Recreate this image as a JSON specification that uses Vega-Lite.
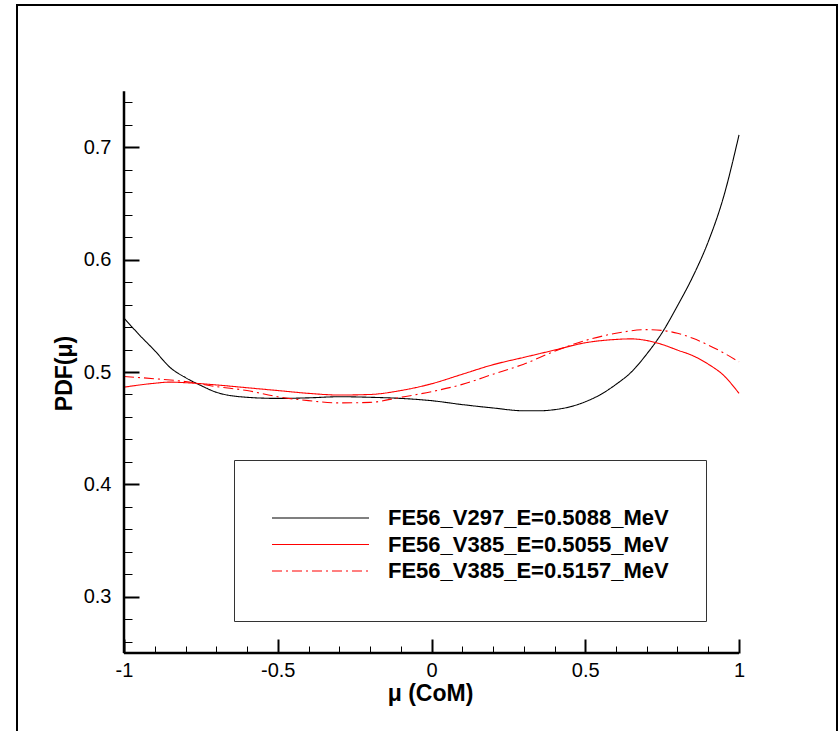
{
  "$schema": "https://vega.github.io/schema/vega-lite/v6.json",
  "width": 820,
  "height": 730,
  "autosize": {"type": "none"},
  "padding": {"left": 17, "top": 5, "right": 1, "bottom": 0},
  "background": "#ffffff",
  "config": {
    "view": {"stroke": "#000000", "strokeWidth": 2},
    "font": "Liberation Sans"
  },
  "datasets": {
    "curves": [
      {"s": "FE56_V297_E=0.5088_MeV", "mu": -1.0, "pdf": 0.548},
      {"s": "FE56_V297_E=0.5088_MeV", "mu": -0.95, "pdf": 0.533},
      {"s": "FE56_V297_E=0.5088_MeV", "mu": -0.9, "pdf": 0.519},
      {"s": "FE56_V297_E=0.5088_MeV", "mu": -0.85, "pdf": 0.504},
      {"s": "FE56_V297_E=0.5088_MeV", "mu": -0.8, "pdf": 0.495},
      {"s": "FE56_V297_E=0.5088_MeV", "mu": -0.75, "pdf": 0.488},
      {"s": "FE56_V297_E=0.5088_MeV", "mu": -0.7, "pdf": 0.482},
      {"s": "FE56_V297_E=0.5088_MeV", "mu": -0.6, "pdf": 0.4775},
      {"s": "FE56_V297_E=0.5088_MeV", "mu": -0.5, "pdf": 0.4765},
      {"s": "FE56_V297_E=0.5088_MeV", "mu": -0.4, "pdf": 0.477},
      {"s": "FE56_V297_E=0.5088_MeV", "mu": -0.3, "pdf": 0.478},
      {"s": "FE56_V297_E=0.5088_MeV", "mu": -0.2, "pdf": 0.4775},
      {"s": "FE56_V297_E=0.5088_MeV", "mu": -0.1, "pdf": 0.4765},
      {"s": "FE56_V297_E=0.5088_MeV", "mu": 0.0, "pdf": 0.4745},
      {"s": "FE56_V297_E=0.5088_MeV", "mu": 0.1, "pdf": 0.471},
      {"s": "FE56_V297_E=0.5088_MeV", "mu": 0.2, "pdf": 0.468},
      {"s": "FE56_V297_E=0.5088_MeV", "mu": 0.3, "pdf": 0.4655},
      {"s": "FE56_V297_E=0.5088_MeV", "mu": 0.35, "pdf": 0.4655},
      {"s": "FE56_V297_E=0.5088_MeV", "mu": 0.4, "pdf": 0.4665},
      {"s": "FE56_V297_E=0.5088_MeV", "mu": 0.45, "pdf": 0.469},
      {"s": "FE56_V297_E=0.5088_MeV", "mu": 0.5, "pdf": 0.4735},
      {"s": "FE56_V297_E=0.5088_MeV", "mu": 0.55, "pdf": 0.48},
      {"s": "FE56_V297_E=0.5088_MeV", "mu": 0.6, "pdf": 0.489},
      {"s": "FE56_V297_E=0.5088_MeV", "mu": 0.65, "pdf": 0.5},
      {"s": "FE56_V297_E=0.5088_MeV", "mu": 0.7, "pdf": 0.516},
      {"s": "FE56_V297_E=0.5088_MeV", "mu": 0.75, "pdf": 0.535},
      {"s": "FE56_V297_E=0.5088_MeV", "mu": 0.8, "pdf": 0.559},
      {"s": "FE56_V297_E=0.5088_MeV", "mu": 0.85, "pdf": 0.585},
      {"s": "FE56_V297_E=0.5088_MeV", "mu": 0.9, "pdf": 0.616},
      {"s": "FE56_V297_E=0.5088_MeV", "mu": 0.95, "pdf": 0.656},
      {"s": "FE56_V297_E=0.5088_MeV", "mu": 1.0, "pdf": 0.711},
      {"s": "FE56_V385_E=0.5055_MeV", "mu": -1.0, "pdf": 0.4865},
      {"s": "FE56_V385_E=0.5055_MeV", "mu": -0.9, "pdf": 0.49},
      {"s": "FE56_V385_E=0.5055_MeV", "mu": -0.85, "pdf": 0.491},
      {"s": "FE56_V385_E=0.5055_MeV", "mu": -0.8, "pdf": 0.4905},
      {"s": "FE56_V385_E=0.5055_MeV", "mu": -0.7, "pdf": 0.4885},
      {"s": "FE56_V385_E=0.5055_MeV", "mu": -0.6, "pdf": 0.486},
      {"s": "FE56_V385_E=0.5055_MeV", "mu": -0.5, "pdf": 0.4835},
      {"s": "FE56_V385_E=0.5055_MeV", "mu": -0.4, "pdf": 0.481},
      {"s": "FE56_V385_E=0.5055_MeV", "mu": -0.3, "pdf": 0.4795},
      {"s": "FE56_V385_E=0.5055_MeV", "mu": -0.2, "pdf": 0.48},
      {"s": "FE56_V385_E=0.5055_MeV", "mu": -0.1, "pdf": 0.4835},
      {"s": "FE56_V385_E=0.5055_MeV", "mu": 0.0, "pdf": 0.4895},
      {"s": "FE56_V385_E=0.5055_MeV", "mu": 0.1, "pdf": 0.498},
      {"s": "FE56_V385_E=0.5055_MeV", "mu": 0.2, "pdf": 0.5065},
      {"s": "FE56_V385_E=0.5055_MeV", "mu": 0.3, "pdf": 0.513},
      {"s": "FE56_V385_E=0.5055_MeV", "mu": 0.4, "pdf": 0.5195},
      {"s": "FE56_V385_E=0.5055_MeV", "mu": 0.5, "pdf": 0.526},
      {"s": "FE56_V385_E=0.5055_MeV", "mu": 0.6, "pdf": 0.529},
      {"s": "FE56_V385_E=0.5055_MeV", "mu": 0.65, "pdf": 0.5295},
      {"s": "FE56_V385_E=0.5055_MeV", "mu": 0.7, "pdf": 0.528},
      {"s": "FE56_V385_E=0.5055_MeV", "mu": 0.75, "pdf": 0.5245},
      {"s": "FE56_V385_E=0.5055_MeV", "mu": 0.8, "pdf": 0.5195},
      {"s": "FE56_V385_E=0.5055_MeV", "mu": 0.85, "pdf": 0.5145},
      {"s": "FE56_V385_E=0.5055_MeV", "mu": 0.9, "pdf": 0.507},
      {"s": "FE56_V385_E=0.5055_MeV", "mu": 0.95, "pdf": 0.497},
      {"s": "FE56_V385_E=0.5055_MeV", "mu": 1.0, "pdf": 0.481},
      {"s": "FE56_V385_E=0.5157_MeV", "mu": -1.0, "pdf": 0.496},
      {"s": "FE56_V385_E=0.5157_MeV", "mu": -0.9, "pdf": 0.494},
      {"s": "FE56_V385_E=0.5157_MeV", "mu": -0.8, "pdf": 0.4915},
      {"s": "FE56_V385_E=0.5157_MeV", "mu": -0.7, "pdf": 0.487},
      {"s": "FE56_V385_E=0.5157_MeV", "mu": -0.6, "pdf": 0.4835},
      {"s": "FE56_V385_E=0.5157_MeV", "mu": -0.5, "pdf": 0.478},
      {"s": "FE56_V385_E=0.5157_MeV", "mu": -0.4, "pdf": 0.4745},
      {"s": "FE56_V385_E=0.5157_MeV", "mu": -0.3, "pdf": 0.4725},
      {"s": "FE56_V385_E=0.5157_MeV", "mu": -0.2, "pdf": 0.473},
      {"s": "FE56_V385_E=0.5157_MeV", "mu": -0.1, "pdf": 0.4775},
      {"s": "FE56_V385_E=0.5157_MeV", "mu": 0.0, "pdf": 0.4825},
      {"s": "FE56_V385_E=0.5157_MeV", "mu": 0.1, "pdf": 0.489},
      {"s": "FE56_V385_E=0.5157_MeV", "mu": 0.2, "pdf": 0.498},
      {"s": "FE56_V385_E=0.5157_MeV", "mu": 0.3, "pdf": 0.507},
      {"s": "FE56_V385_E=0.5157_MeV", "mu": 0.4, "pdf": 0.5185},
      {"s": "FE56_V385_E=0.5157_MeV", "mu": 0.5, "pdf": 0.528},
      {"s": "FE56_V385_E=0.5157_MeV", "mu": 0.6, "pdf": 0.5345},
      {"s": "FE56_V385_E=0.5157_MeV", "mu": 0.7, "pdf": 0.5377},
      {"s": "FE56_V385_E=0.5157_MeV", "mu": 0.75, "pdf": 0.537},
      {"s": "FE56_V385_E=0.5157_MeV", "mu": 0.8, "pdf": 0.5345},
      {"s": "FE56_V385_E=0.5157_MeV", "mu": 0.85, "pdf": 0.53},
      {"s": "FE56_V385_E=0.5157_MeV", "mu": 0.9, "pdf": 0.524},
      {"s": "FE56_V385_E=0.5157_MeV", "mu": 0.95, "pdf": 0.517},
      {"s": "FE56_V385_E=0.5157_MeV", "mu": 1.0, "pdf": 0.509}
    ],
    "frameV": [{"mu": -1, "pdf": 0.25, "pdf2": 0.75}],
    "frameH": [{"mu": -1, "mu2": 1, "pdf": 0.25}]
  },
  "resolve": {"axis": {"x": "independent", "y": "independent"}},
  "layer": [
    {
      "data": {"name": "curves"},
      "mark": {"type": "line", "strokeWidth": 1.1, "interpolate": "monotone"},
      "encoding": {
        "x": {
          "field": "mu", "type": "quantitative",
          "scale": {"domain": [-1.34797, 1.3187], "nice": false, "zero": false},
          "axis": {
            "orient": "bottom",
            "offset": -82,
            "domain": false,
            "grid": false,
            "values": [-1, -0.5, 0, 0.5, 1],
            "labelExpr": "toString(datum.value)",
            "labelOverlap": false,
            "labelFlush": false,
            "labelFont": "Liberation Sans",
            "labelFontSize": 20,
            "labelColor": "#000000",
            "labelPadding": 21,
            "tickColor": "#000000",
            "tickSize": -14,
            "tickWidth": 2,
            "title": "μ (CoM)",
            "titleFont": "Liberation Sans",
            "titleFontSize": 23,
            "titleFontWeight": "bold",
            "titleColor": "#000000",
            "titleX": 413,
            "titleY": 29,
            "titleBaseline": "top"
          }
        },
        "y": {
          "field": "pdf", "type": "quantitative",
          "scale": {"domain": [0.17691, 0.82666], "nice": false, "zero": false},
          "axis": {
            "orient": "left",
            "offset": -107,
            "domain": false,
            "grid": false,
            "values": [0.3, 0.4, 0.5, 0.6, 0.7],
            "format": ".1f",
            "labelOverlap": false,
            "labelFlush": false,
            "labelFont": "Liberation Sans",
            "labelFontSize": 20,
            "labelColor": "#000000",
            "labelPadding": 28,
            "tickColor": "#000000",
            "tickSize": -15,
            "tickWidth": 2,
            "title": "PDF(μ)",
            "titleFont": "Liberation Sans",
            "titleFontSize": 23,
            "titleFontWeight": "bold",
            "titleColor": "#000000",
            "titleX": -48,
            "titleY": 368,
            "titleBaseline": "bottom"
          }
        },
        "color": {
          "field": "s", "type": "nominal",
          "scale": {"domain": ["FE56_V297_E=0.5088_MeV", "FE56_V385_E=0.5055_MeV", "FE56_V385_E=0.5157_MeV"], "range": ["#000000", "#ff0000", "#ff0000"]},
          "legend": {
            "title": " ",
            "titleFontSize": 6,
            "titlePadding": 2,
            "orient": "none",
            "legendX": 217,
            "legendY": 455,
            "direction": "vertical",
            "symbolType": "stroke",
            "symbolSize": 9409,
            "symbolStrokeWidth": 1.2,
            "labelFont": "Liberation Sans",
            "labelFontSize": 22,
            "labelFontWeight": "bold",
            "labelColor": "#000000",
            "labelOffset": 18,
            "labelLimit": 0,
            "clipHeight": 26,
            "rowPadding": 0.5,
            "padding": 37,
            "strokeColor": "#333333",
            "fillColor": "#ffffff"
          }
        },
        "strokeDash": {
          "field": "s", "type": "nominal",
          "scale": {"domain": ["FE56_V297_E=0.5088_MeV", "FE56_V385_E=0.5055_MeV", "FE56_V385_E=0.5157_MeV"], "range": [[1, 0], [1, 0], [10, 4, 2, 4]]},
          "legend": {
            "title": " ",
            "titleFontSize": 6,
            "titlePadding": 2,
            "orient": "none",
            "legendX": 217,
            "legendY": 455,
            "direction": "vertical",
            "symbolType": "stroke",
            "symbolSize": 9409,
            "symbolStrokeWidth": 1.2,
            "labelFont": "Liberation Sans",
            "labelFontSize": 22,
            "labelFontWeight": "bold",
            "labelColor": "#000000",
            "labelOffset": 18,
            "labelLimit": 0,
            "clipHeight": 26,
            "rowPadding": 0.5,
            "padding": 37,
            "strokeColor": "#333333",
            "fillColor": "#ffffff"
          }
        }
      }
    },
    {
      "data": {"name": "frameV"},
      "mark": {"type": "rule", "color": "#000000", "strokeWidth": 2.5},
      "encoding": {
        "x": {
          "field": "mu", "type": "quantitative",
          "axis": {
            "orient": "bottom",
            "offset": -82,
            "domain": false,
            "grid": false,
            "labels": false,
            "title": null,
            "values": [-0.9, -0.8, -0.7, -0.6, -0.4, -0.3, -0.2, -0.1, 0.1, 0.2, 0.3, 0.4, 0.6, 0.7, 0.8, 0.9],
            "tickColor": "#000000",
            "tickSize": -7,
            "tickWidth": 1
          }
        },
        "y": {
          "field": "pdf", "type": "quantitative",
          "axis": {
            "orient": "left",
            "offset": -107,
            "domain": false,
            "grid": false,
            "labels": false,
            "title": null,
            "values": [0.26, 0.28, 0.32, 0.34, 0.36, 0.38, 0.42, 0.44, 0.46, 0.48, 0.52, 0.54, 0.56, 0.58, 0.62, 0.64, 0.66, 0.68, 0.72, 0.74],
            "tickColor": "#000000",
            "tickSize": -8,
            "tickWidth": 1
          }
        },
        "y2": {"field": "pdf2"}
      }
    },
    {
      "data": {"name": "frameH"},
      "mark": {"type": "rule", "color": "#000000", "strokeWidth": 2.5},
      "encoding": {
        "x": {"field": "mu", "type": "quantitative", "axis": null},
        "x2": {"field": "mu2"},
        "y": {"field": "pdf", "type": "quantitative", "axis": null}
      }
    }
  ]
}
